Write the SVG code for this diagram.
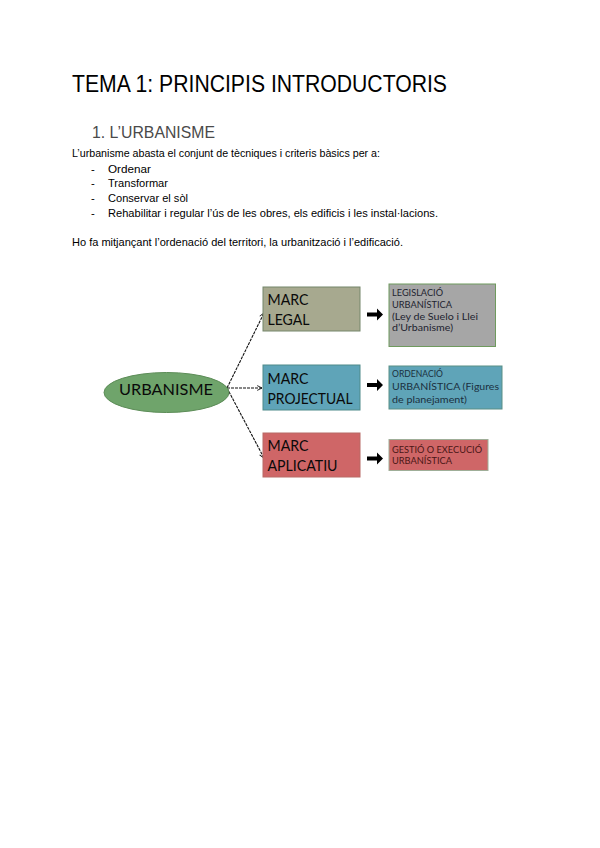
<svg xmlns="http://www.w3.org/2000/svg" width="600" height="848" viewBox="0 0 600 848">
<style>
.title{font-family:"Liberation Sans",Arial,sans-serif;font-size:23px;fill:#000}
.sub{font-family:"Liberation Sans",Arial,sans-serif;font-size:17px;fill:#4a4a4a}
.body{font-family:"Liberation Sans",Arial,sans-serif;font-size:11.3px;fill:#000}
.big{font-family:Lato,"Open Sans",sans-serif;font-size:16px;fill:#0a0a0a}
.small{font-family:Lato,"Open Sans",sans-serif;font-size:9.8px}
.conn{stroke:#111;stroke-width:1.1;stroke-dasharray:3 1;fill:none}
.blk{fill:#000}
</style>
<defs>
<marker id="ah" viewBox="0 0 10 10" refX="9" refY="5" markerWidth="6" markerHeight="6" orient="auto" markerUnits="userSpaceOnUse">
<path d="M1,1 L9,5 L1,9" fill="none" stroke="#111" stroke-width="1.5"/>
</marker>
</defs>
<rect width="600" height="848" fill="#fff"/>
<g id="header">
<text class="title" x="72" y="92" textLength="375" lengthAdjust="spacingAndGlyphs">TEMA 1: PRINCIPIS INTRODUCTORIS</text>
<text class="sub" x="92" y="137.5" textLength="123" lengthAdjust="spacingAndGlyphs">1. L’URBANISME</text>
<text class="body" x="72" y="157" textLength="308" lengthAdjust="spacingAndGlyphs">L’urbanisme abasta el conjunt de tècniques i criteris bàsics per a:</text>
<text class="body" x="91" y="172.5">-</text>
<text class="body" x="108" y="172.5" textLength="43" lengthAdjust="spacingAndGlyphs">Ordenar</text>
<text class="body" x="91" y="187">-</text>
<text class="body" x="108" y="187" textLength="60" lengthAdjust="spacingAndGlyphs">Transformar</text>
<text class="body" x="91" y="201.5">-</text>
<text class="body" x="108" y="201.5" textLength="80" lengthAdjust="spacingAndGlyphs">Conservar el sòl</text>
<text class="body" x="91" y="216.5">-</text>
<text class="body" x="108" y="216.5" textLength="330" lengthAdjust="spacingAndGlyphs">Rehabilitar i regular l’ús de les obres, els edificis i les instal·lacions.</text>
<text class="body" x="72" y="246" textLength="331" lengthAdjust="spacingAndGlyphs">Ho fa mitjançant l’ordenació del territori, la urbanització i l’edificació.</text>
</g>
<g id="connectors">
<path class="conn" d="M227,388 L264,313" marker-end="url(#ah)"/>
<path class="conn" d="M227,388 L262,388" marker-end="url(#ah)"/>
<path class="conn" d="M227,388 L264,458" marker-end="url(#ah)"/>
<path class="blk" d="M367,312.5 h10 v-4 l6,6 l-6,6 v-4 h-10 z"/>
<path class="blk" d="M367,383 h10 v-4 l6,6 l-6,6 v-4 h-10 z"/>
<path class="blk" d="M367,456.5 h10 v-4 l6,6 l-6,6 v-4 h-10 z"/>
</g>
<g id="urbanisme">
<ellipse cx="166.5" cy="392.5" rx="62.5" ry="20" fill="#6fa46b" stroke="#5c8c57" stroke-width="1"/>
<text class="big" x="166" y="394.5" text-anchor="middle" font-size="17" textLength="94" lengthAdjust="spacingAndGlyphs" fill="#0e1812">URBANISME</text>
</g>
<g id="marc-legal">
<rect x="263" y="287" width="97" height="44" fill="#a7a98f" stroke="#74866b" stroke-width="1"/>
<text class="big" x="267.5" y="305" textLength="41" lengthAdjust="spacingAndGlyphs">MARC</text>
<text class="big" x="267.5" y="324.5" textLength="42" lengthAdjust="spacingAndGlyphs">LEGAL</text>
</g>
<g id="marc-projectual">
<rect x="263" y="365" width="97" height="45" fill="#5fa4b8" stroke="#4f8a8a" stroke-width="1"/>
<text class="big" x="267.5" y="383.5" textLength="41" lengthAdjust="spacingAndGlyphs">MARC</text>
<text class="big" x="267.5" y="403.5" textLength="85" lengthAdjust="spacingAndGlyphs">PROJECTUAL</text>
</g>
<g id="marc-aplicatiu">
<rect x="263" y="433" width="97" height="44" fill="#cf6667" stroke="#b86a66" stroke-width="1"/>
<text class="big" x="267.5" y="450.5" textLength="41" lengthAdjust="spacingAndGlyphs">MARC</text>
<text class="big" x="267.5" y="470.5" textLength="70" lengthAdjust="spacingAndGlyphs">APLICATIU</text>
</g>
<g id="legislacio">
<rect x="389" y="284" width="106.5" height="62.5" fill="#a6a6a6" stroke="#6f9a5e" stroke-width="1"/>
<text class="small" x="392" y="295.5" fill="#1e2430" textLength="51" lengthAdjust="spacingAndGlyphs">LEGISLACIÓ</text>
<text class="small" x="392" y="308" fill="#1e2430" textLength="60" lengthAdjust="spacingAndGlyphs">URBANÍSTICA</text>
<text class="small" x="392" y="319.7" fill="#1e2430" textLength="86" lengthAdjust="spacingAndGlyphs">(Ley de Suelo i Llei</text>
<text class="small" x="392" y="331.3" fill="#1e2430" textLength="61" lengthAdjust="spacingAndGlyphs">d’Urbanisme)</text>
</g>
<g id="ordenacio">
<rect x="389" y="366" width="113" height="43" fill="#5fa4b8" stroke="#5a8f86" stroke-width="1"/>
<text class="small" x="392" y="376.5" fill="#1b3040" textLength="51" lengthAdjust="spacingAndGlyphs">ORDENACIÓ</text>
<text class="small" x="392" y="389.5" fill="#1b3040" textLength="107" lengthAdjust="spacingAndGlyphs">URBANÍSTICA (Figures</text>
<text class="small" x="392" y="402.5" fill="#1b3040" textLength="75" lengthAdjust="spacingAndGlyphs">de planejament)</text>
</g>
<g id="gestio">
<rect x="389" y="439.5" width="99" height="31" fill="#cf6667" stroke="#9fae98" stroke-width="1"/>
<text class="small" x="392" y="452.7" fill="#4a1616" textLength="90" lengthAdjust="spacingAndGlyphs">GESTIÓ O EXECUCIÓ</text>
<text class="small" x="392" y="463.5" fill="#4a1616" textLength="60" lengthAdjust="spacingAndGlyphs">URBANÍSTICA</text>
</g>
</svg>
